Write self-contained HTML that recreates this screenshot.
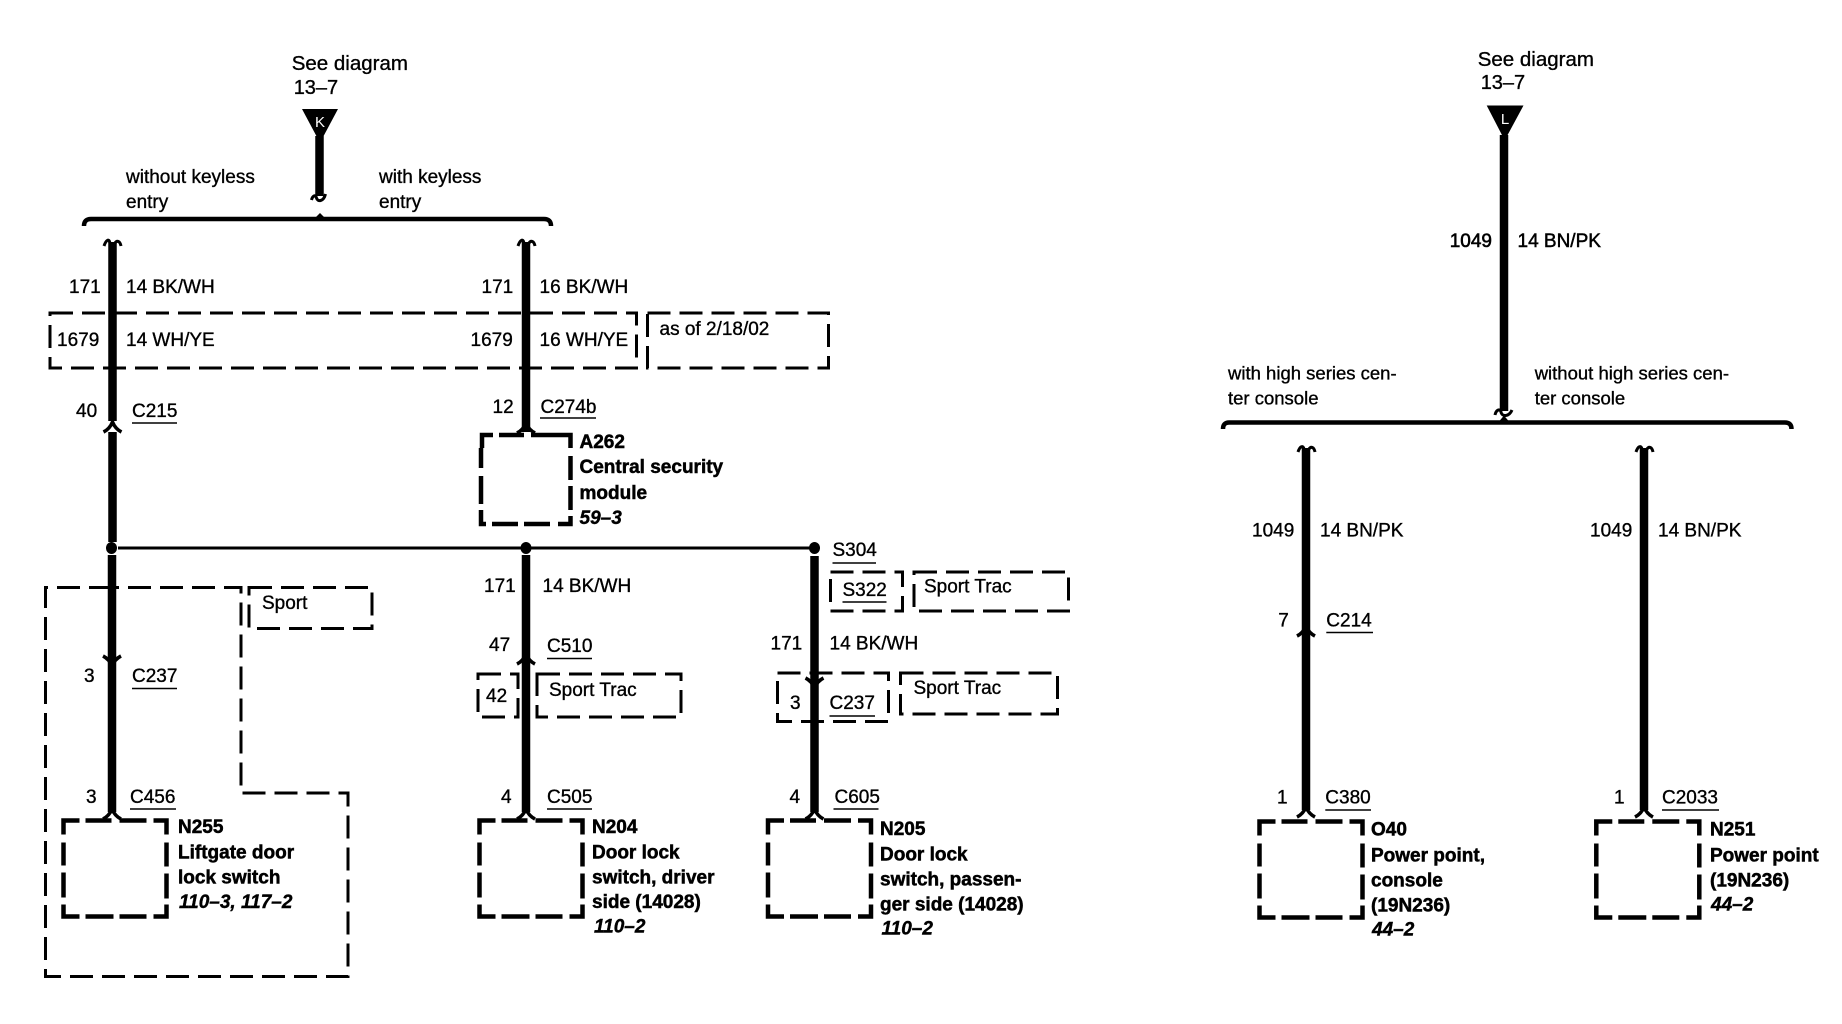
<!DOCTYPE html>
<html>
<head>
<meta charset="utf-8">
<style>
html,body{margin:0;padding:0;background:#fff;width:1842px;height:1024px;overflow:hidden}
svg{display:block}
text{font-family:"Liberation Sans",sans-serif;font-size:19px;fill:#000;stroke:#000;stroke-width:.35}
.b{font-weight:bold;stroke-width:.5}
.i{font-weight:bold;font-style:italic;stroke-width:.4}
.w{stroke:#000;stroke-width:8.5;fill:none}
.u{stroke:#000;stroke-width:1.6;fill:none}
.d{stroke:#000;stroke-width:3;fill:none;stroke-dasharray:23 9}
.t{stroke:#000;stroke-width:4.5;fill:none}
.a{stroke:#000;stroke-width:3;fill:none}
.h{stroke:#000;stroke-width:3.6;fill:none}
.br{stroke:#000;stroke-width:4.5;fill:none}
</style>
</head>
<body>
<svg width="1842" height="1024" viewBox="0 0 1842 1024" xmlns="http://www.w3.org/2000/svg">
<defs>
<path id="box" class="t" d="M0,14V0H16M22,0H48M56,0H83M90,0H103V14M103,22V46M103,53V78M103,84V96H90M83,96H56M50,96H22M16,96H0V84M0,77V52M0,45V22"/>
<path id="up" class="h" d="M-9,8C-5,6 -2,3 0,-2C2,3 5,6 9,8"/>
<path id="dn" class="h" d="M-9,-8C-5,-6 -2,-3 0,2C2,-3 5,-6 9,-8"/>
</defs>

<!-- LEFT: source K -->
<text x="291.700" y="70" style="font-size:20.5px">See diagram</text>
<text x="293.700" y="94" style="font-size:20px">13–7</text>
<polygon points="302,109 338,109 322,139 318,139" fill="#000"/>
<text x="320" y="127" text-anchor="middle" style="font-size:15px;fill:#fff;stroke:none">K</text>
<path class="w" d="M319.500,136V196"/>
<path class="a" d="M311.500,200C312.500,196 315.500,194 316.500,198C317.500,202 323.500,202 325.500,194"/>
<text x="126" y="183">without keyless</text>
<text x="126" y="208">entry</text>
<text x="379" y="183">with keyless</text>
<text x="379" y="208">entry</text>
<path class="br" d="M84,226Q84,219 91,219H544Q551,219 551,226"/>
<polygon points="315,218 320,213 325,218" fill="#000"/>

<!-- left wire -->
<path class="w" d="M112.500,242V421M112.500,432V542M112,555V812"/>
<path class="a" d="M104,246C106,240 109,238 110,243M121,246C120,241 117,240 115,243"/>
<use href="#up" x="112.500" y="424"/>
<!-- middle wire -->
<path class="w" d="M526,242V432M526,555V812"/>
<path class="a" d="M518,246C520,240 523,238 524,243M535,246C534,241 531,240 529,243"/>
<use href="#up" x="526" y="425"/>
<use href="#up" x="526" y="656"/>
<use href="#up" x="526" y="811"/>
<!-- wire labels upper -->
<text x="69" y="293">171</text>
<text x="126" y="293">14 BK/WH</text>
<text x="481.500" y="293">171</text>
<text x="539.500" y="293">16 BK/WH</text>
<text x="57" y="346">1679</text>
<text x="126" y="346">14 WH/YE</text>
<text x="470.500" y="346">1679</text>
<text x="539.500" y="346">16 WH/YE</text>
<rect class="d" x="50" y="313" width="586.500" height="55"/>
<rect class="d" x="647.500" y="313" width="181" height="55"/>
<text x="659.500" y="335">as of 2/18/02</text>
<text x="76" y="417">40</text>
<text x="132" y="417">C215</text>
<path class="u" d="M132,423H177"/>
<text x="492.500" y="413">12</text>
<text x="540.500" y="413">C274b</text>
<path class="u" d="M540,418H596"/>

<!-- A262 -->
<path class="t" d="M482,448V435H493M499,435H524M531,435H560H570.500V448M570.500,456V480M570.500,486V510M570.500,516V524H558M550,524H524M518,524H492M486,524H481V510M481,504V476M481,468V448"/>
<text class="b" x="579.500" y="448">A262</text>
<text class="b" x="579.500" y="473">Central security</text>
<text class="b" x="579.500" y="499">module</text>
<text class="i" x="579.500" y="524">59–3</text>

<!-- splice -->
<path stroke="#000" stroke-width="3" fill="none" d="M118,548H810"/>
<ellipse cx="111.500" cy="548" rx="5.500" ry="6" fill="#000"/>
<ellipse cx="526" cy="548" rx="5.500" ry="6" fill="#000"/>
<ellipse cx="814.500" cy="548" rx="5.500" ry="6" fill="#000"/>
<text x="832.500" y="556">S304</text>
<path class="u" d="M832.500,563H876"/>

<!-- N255 group -->
<path class="d" d="M112,587.500H45.500V976.500H348V793H241V587.500H112"/>
<rect class="d" x="249" y="587.500" width="123" height="41"/>
<text x="262" y="609">Sport</text>
<use href="#dn" x="112" y="664"/>
<use href="#up" x="112" y="811"/>
<text x="84" y="682">3</text>
<text x="132" y="682">C237</text>
<path class="u" d="M132,688.500H177"/>
<text x="86" y="803">3</text>
<text x="130" y="803">C456</text>
<path class="u" d="M130,809H176"/>
<use href="#box" x="63.500" y="820.500"/>
<text class="b" x="178" y="833">N255</text>
<text class="b" x="178" y="858.500">Liftgate door</text>
<text class="b" x="178" y="883.500">lock switch</text>
<text class="i" x="179" y="908">110–3, 117–2</text>

<!-- N204 group -->
<text x="484" y="592">171</text>
<text x="542.500" y="592">14 BK/WH</text>
<text x="489" y="651">47</text>
<text x="547" y="652">C510</text>
<path class="u" d="M547,658.500H592"/>
<rect class="d" x="478" y="674" width="40" height="43"/>
<text x="486" y="702">42</text>
<rect class="d" x="537" y="674" width="144" height="43"/>
<text x="549" y="696">Sport Trac</text>
<text x="501" y="803">4</text>
<text x="547" y="803">C505</text>
<path class="u" d="M547,809H592"/>
<use href="#box" x="479.500" y="820.500"/>
<text class="b" x="592" y="833">N204</text>
<text class="b" x="592" y="858.500">Door lock</text>
<text class="b" x="592" y="883.500">switch, driver</text>
<text class="b" x="592" y="908">side (14028)</text>
<text class="i" x="594" y="932.500">110–2</text>

<!-- N205 group -->
<path class="w" d="M814.500,556V812"/>
<use href="#dn" x="814.500" y="686"/>
<use href="#up" x="814.500" y="811"/>
<rect class="d" x="830.500" y="572" width="72" height="39"/>
<text x="842.500" y="596">S322</text>
<path class="u" d="M842.500,602H886.500"/>
<rect class="d" x="914" y="572" width="154.500" height="39"/>
<text x="924" y="592.500">Sport Trac</text>
<text x="770.500" y="649.500">171</text>
<text x="829.500" y="649.500">14 BK/WH</text>
<path class="d" d="M777.500,673H888.500V721.500H777.500V673"/>
<text x="790" y="709">3</text>
<text x="829.500" y="709">C237</text>
<path class="u" d="M829.500,716H875"/>
<rect class="d" x="900.500" y="673" width="157" height="41"/>
<text x="913.500" y="694">Sport Trac</text>
<text x="789.500" y="803">4</text>
<text x="834.500" y="803">C605</text>
<path class="u" d="M833.500,809H878.500"/>
<use href="#box" x="768" y="820.500"/>
<text class="b" x="880" y="835">N205</text>
<text class="b" x="880" y="860.500">Door lock</text>
<text class="b" x="880" y="885.500">switch, passen-</text>
<text class="b" x="880" y="910.500">ger side (14028)</text>
<text class="i" x="881.500" y="934.500">110–2</text>

<!-- RIGHT: source L -->
<text x="1477.700" y="66" style="font-size:20.5px">See diagram</text>
<text x="1480.700" y="89" style="font-size:20px">13–7</text>
<polygon points="1486.700,105.500 1523.500,105.500 1506.500,137 1503,137" fill="#000"/>
<text x="1505" y="124" text-anchor="middle" style="font-size:15px;fill:#fff;stroke:none">L</text>
<path class="w" d="M1504,135V411"/>
<path class="a" d="M1495,415C1496,410 1500,408 1501,412C1502,417 1509,417 1512,410"/>
<text x="1449.700" y="247" style="stroke-width:.6">1049</text>
<text x="1517.500" y="247" style="stroke-width:.5">14 BN/PK</text>
<text x="1228" y="379.500" style="font-size:18.500px">with high series cen-</text>
<text x="1228" y="404.500" style="font-size:18.500px">ter console</text>
<text x="1534.700" y="379.500" style="font-size:18.500px">without high series cen-</text>
<text x="1534.700" y="404.500" style="font-size:18.500px">ter console</text>
<path class="br" d="M1223,429Q1223,422.500 1229,422.500H1785Q1791.500,422.500 1791.500,429"/>
<polygon points="1499,421.500 1504,415.500 1509,421.500" fill="#000"/>

<!-- O40 wire -->
<path class="w" d="M1306,448V810"/>
<path class="a" d="M1298,452C1300,446 1303,445 1304,449M1315,452C1314,447 1311,446 1309,449"/>
<use href="#up" x="1306" y="628"/>
<use href="#up" x="1306" y="809"/>
<!-- N251 wire -->
<path class="w" d="M1644,448V810"/>
<path class="a" d="M1636,452C1638,446 1641,445 1642,449M1653,452C1652,447 1649,446 1647,449"/>
<use href="#up" x="1644" y="809"/>

<text x="1252" y="536.600">1049</text>
<text x="1320" y="536.600">14 BN/PK</text>
<text x="1590" y="536.600">1049</text>
<text x="1658" y="536.600">14 BN/PK</text>
<text x="1278.300" y="626.500">7</text>
<text x="1326.300" y="626.500">C214</text>
<path class="u" d="M1326.300,632.500H1373"/>
<text x="1277" y="803.300">1</text>
<text x="1325.300" y="803.300">C380</text>
<path class="u" d="M1325.300,810H1371"/>
<text x="1614" y="803.300">1</text>
<text x="1662" y="803.300">C2033</text>
<path class="u" d="M1662,810H1719"/>

<use href="#box" x="1259.500" y="821.500"/>
<use href="#box" x="1596.300" y="821.500"/>
<text class="b" x="1371" y="835.600">O40</text>
<text class="b" x="1371" y="861.600">Power point,</text>
<text class="b" x="1371" y="886.500">console</text>
<text class="b" x="1371" y="911.500">(19N236)</text>
<text class="i" x="1372" y="935.500">44–2</text>
<text class="b" x="1710" y="835.600">N251</text>
<text class="b" x="1710" y="861.600">Power point</text>
<text class="b" x="1710" y="886.500">(19N236)</text>
<text class="i" x="1711" y="910.500">44–2</text>
</svg>
</body>
</html>
